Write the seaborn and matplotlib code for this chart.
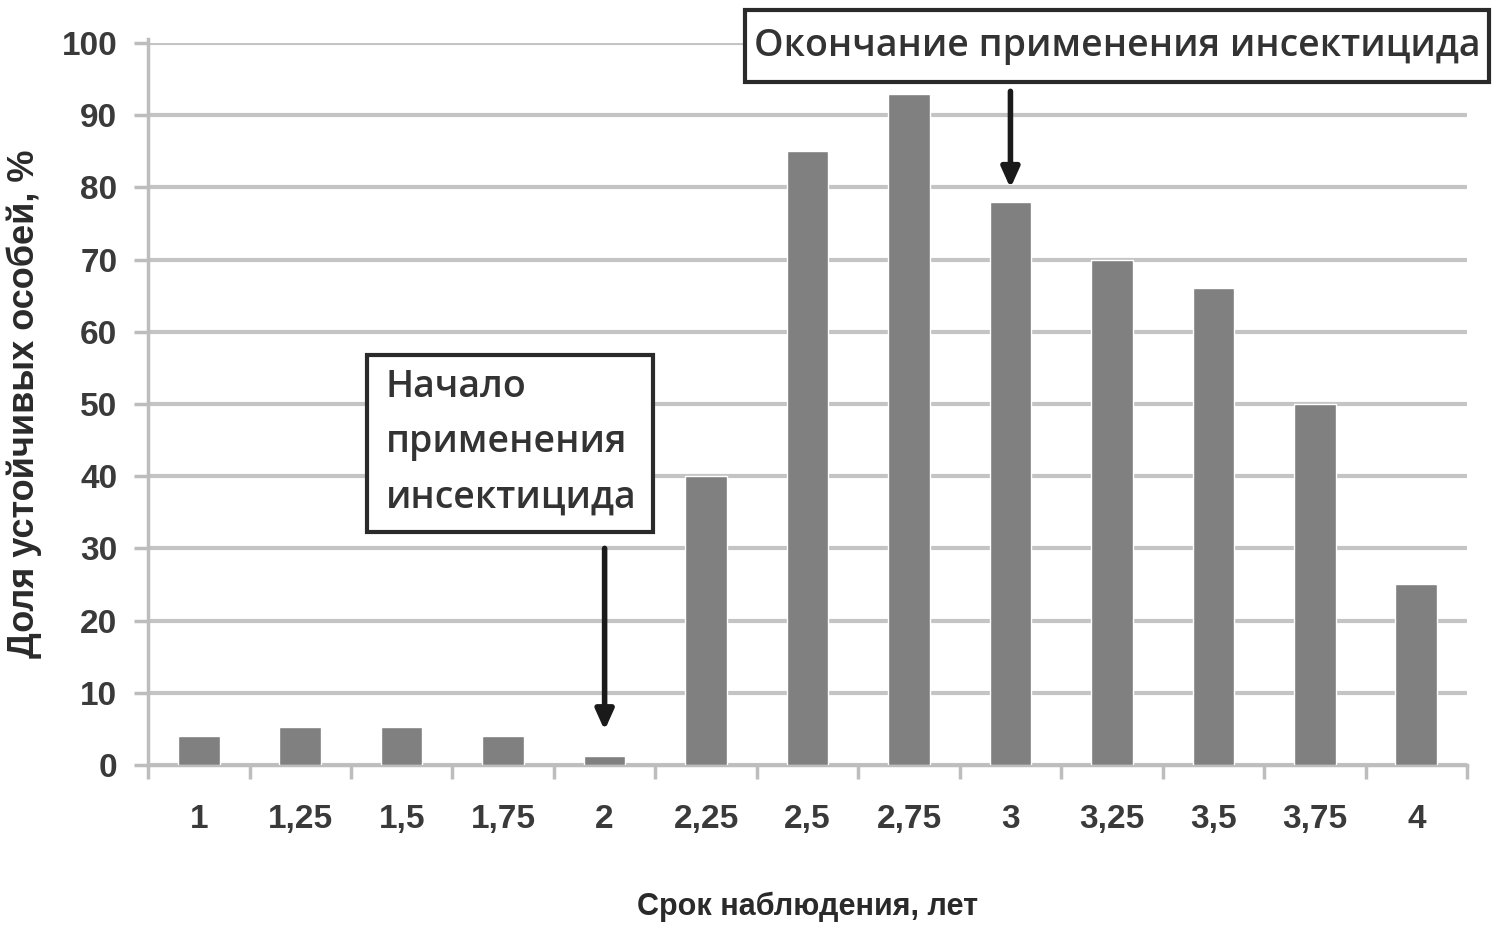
import matplotlib
matplotlib.use("Agg")
import matplotlib.pyplot as plt
import seaborn as sns
import pandas as pd
from matplotlib.patches import Rectangle

categories = ["1", "1,25", "1,5", "1,75", "2", "2,25", "2,5", "2,75", "3", "3,25", "3,5", "3,75", "4"]
values = [4, 5.2, 5.2, 4, 1.3, 40, 85, 93, 78, 70, 66, 50, 25]
y_ticks = [0, 10, 20, 30, 40, 50, 60, 70, 80, 90, 100]
x_label = "Срок наблюдения, лет"
y_label = "Доля устойчивых особей, %"
start_text = "Начало\nприменения\nинсектицида"
end_text = "Окончание применения инсектицида"

sns.set_theme(style="white")
plt.rcParams['font.family'] = ['Liberation Sans', 'DejaVu Sans']

df = pd.DataFrame({"cat": categories, "val": values})

fig = plt.figure(figsize=(15, 9.26), dpi=100)
ax = fig.add_axes([0.0987, 0.1739, 0.8793, 0.7797])

sns.barplot(data=df, x="cat", y="val", color="#808080", saturation=1, width=0.41, ax=ax, zorder=3)

ax.set_xlim(-0.5, len(categories) - 0.5)
ax.set_ylim(0, 100)
ax.set_yticks(y_ticks)
ax.yaxis.grid(True, color="#c4c4c4", linewidth=3, zorder=0)
ax.set_axisbelow(True)
for s in ["top", "right"]:
    ax.spines[s].set_visible(False)
ax.spines["left"].set_color("#bdbdbd")
ax.spines["left"].set_linewidth(2.5)
ax.spines["bottom"].set_color("#bdbdbd")
ax.spines["bottom"].set_linewidth(2.5)
ax.spines["left"].set_bounds(0, 100.5)

# ticks
ax.tick_params(axis="y", which="major", left=True, length=10, width=2.5, color="#bdbdbd",
               labelsize=24, labelcolor="#3a3a3a", pad=12)
ax.set_xticks(range(len(categories)))
ax.set_xticklabels(categories)
ax.tick_params(axis="x", which="major", bottom=False, labelsize=24, labelcolor="#3a3a3a", pad=22)
ax.set_xticks([i - 0.5 for i in range(len(categories) + 1)], minor=True)
ax.tick_params(axis="x", which="minor", bottom=True, length=10, width=2.5, color="#bdbdbd")
for lab in ax.get_xticklabels() + ax.get_yticklabels():
    lab.set_fontweight("bold")

ax.set_xlabel(x_label, fontsize=22, fontweight="bold", color="#2a2a2a", labelpad=41)
ax.set_ylabel(y_label, fontsize=26, fontweight="bold", color="#2a2a2a", labelpad=14)

# annotation boxes
r1 = Rectangle((1.66, 32.3), 4.475 - 1.66, 56.8 - 32.3, transform=ax.transData,
               facecolor="white", edgecolor="#2a2a2a", linewidth=3, zorder=5, clip_on=False)
ax.add_patch(r1)
ax.text(1.84, 55.0, start_text, fontsize=27, family="Open Sans", fontweight="semibold",
        color="#333333", ha="left", va="top", linespacing=1.6, zorder=6)

r2 = Rectangle((5.38, 94.6), 12.72 - 5.38, 104.6 - 94.6, transform=ax.transData,
               facecolor="white", edgecolor="#2a2a2a", linewidth=3, zorder=5, clip_on=False)
ax.add_patch(r2)
ax.text((5.38 + 12.72) / 2, 99.6, end_text, fontsize=27, family="Open Sans", fontweight="semibold",
        color="#333333", ha="center", va="center", zorder=6, clip_on=False)

arrow_kw = dict(arrowstyle="-|>,head_length=1.0,head_width=0.45", color="#1a1a1a", lw=4, shrinkA=0, shrinkB=0)
ax.annotate("", xy=(4, 4.8), xytext=(4, 30), arrowprops=arrow_kw, zorder=6, annotation_clip=False)
ax.annotate("", xy=(8, 79.9), xytext=(8, 93.3), arrowprops=arrow_kw, zorder=6, annotation_clip=False)

fig.savefig("out.png", dpi=100)
